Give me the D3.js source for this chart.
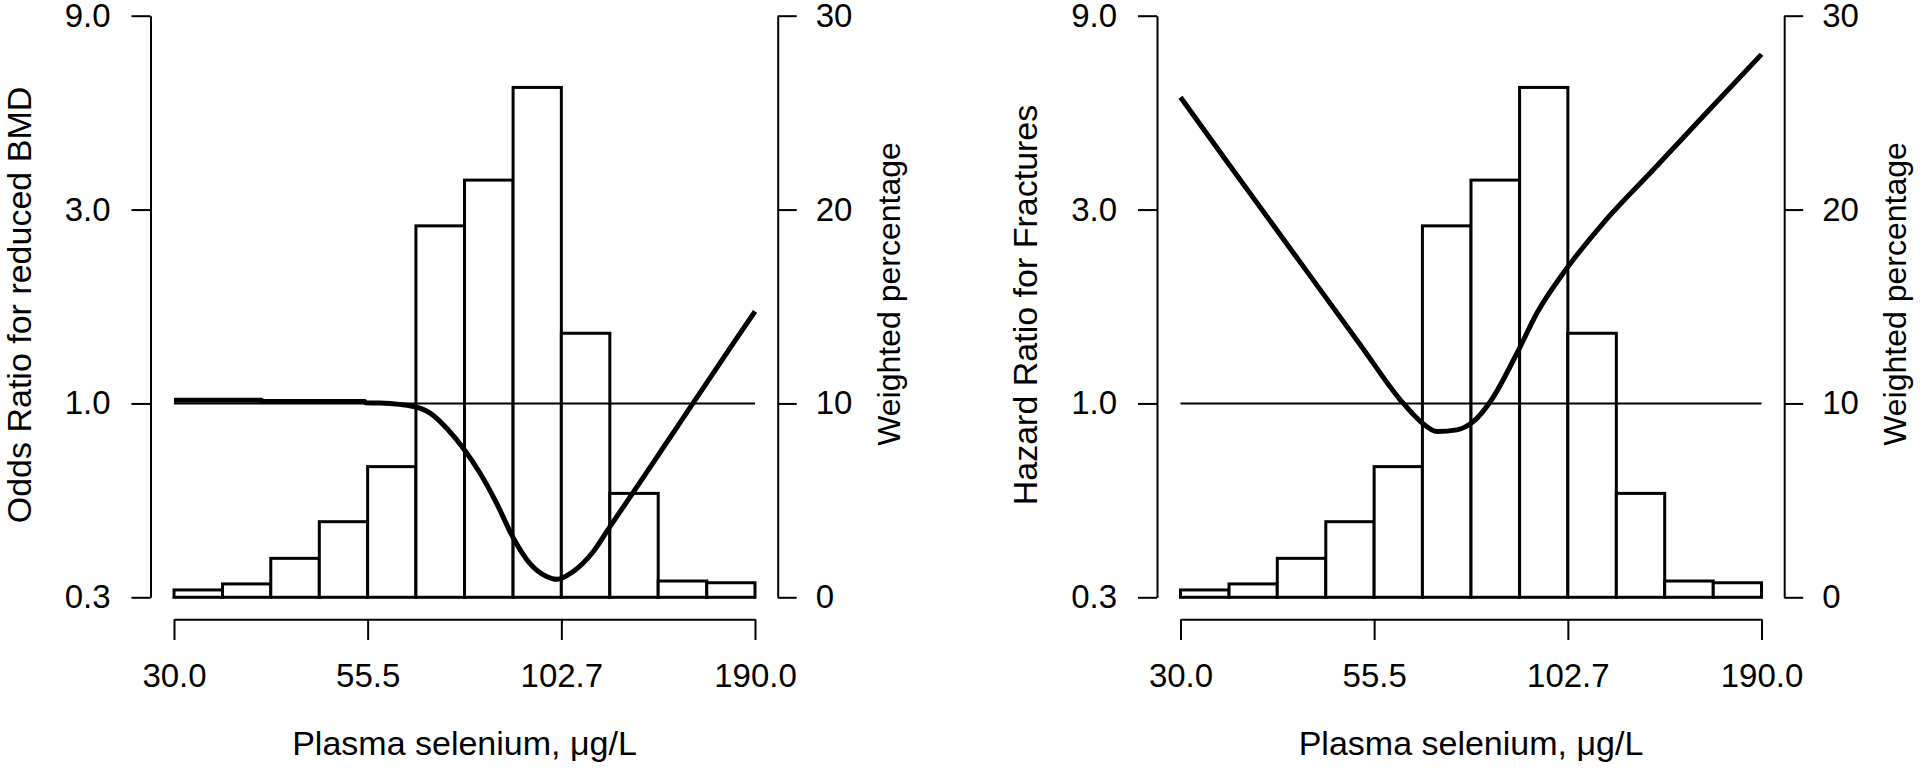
<!DOCTYPE html>
<html>
<head>
<meta charset="utf-8">
<script src="https://cdn.jsdelivr.net/npm/d3@7"></script>
<style>
  html, body { margin: 0; padding: 0; background: #fff; }
  svg { display: block; font-family: "Liberation Sans", Arial, sans-serif; }
  .axis path, .axis line { stroke: #000; stroke-width: 2; }
  .axis text { font-size: 33px; fill: #000; font-family: "Liberation Sans", Arial, sans-serif; }
  .title { font-size: 34px; fill: #000; }
</style>
</head>
<body>
<svg id="chart" width="1920" height="768"></svg>
<script>
// histogram of plasma selenium (log-spaced bins), same in both panels
const binEdges = [30, 35.0, 40.8, 47.6, 55.5, 64.7, 75.5, 88.1, 102.7, 119.8, 139.7, 163.0, 190.0];
const weightedPct = [0.38, 0.69, 2.01, 3.90, 6.74, 19.16, 21.52, 26.30, 13.62, 5.36, 0.84, 0.75];

// tick values
const xTicks = [30.0, 55.5, 102.7, 190.0];
const ratioTicks = [1/3, 1, 3, 9];
const ratioTickLabels = ['0.3', '1.0', '3.0', '9.0'];
const pctTicks = [0, 10, 20, 30];

// left panel: odds ratio for reduced BMD
const bmdSelenium = [30, 39.6, 39.7, 55.0, 55.1, 57.7, 64.2, 67.7, 71.3, 75.2, 79.3, 83.6, 88.2,
                     92.9, 98.0, 101.2, 106.7, 113.7, 119.9, 129.1, 142.0, 155.4, 166.4, 177.3, 190];
const bmdOddsRatio = [1.018, 1.018, 1.011, 1.011, 1.004, 1.002, 0.983, 0.947, 0.870, 0.776, 0.674, 0.568, 0.466,
                      0.404, 0.375, 0.369, 0.386, 0.432, 0.498, 0.605, 0.779, 0.990, 1.187, 1.405, 1.685];

// right panel: hazard ratio for fractures
const fxSelenium = [30, 34.8, 43.0, 53.1, 60.3, 64.3, 67.8, 72.2, 76.1, 80.3, 87.4, 93.1,
                    101.3, 115.0, 134.8, 158.0, 190];
const fxHazardRatio = [5.67, 3.93, 2.34, 1.395, 1.021, 0.903, 0.853, 0.861, 0.903, 1.011, 1.331, 1.670,
                       2.097, 2.782, 3.763, 5.10, 7.23];

const svg = d3.select('#chart');

drawPanel(svg, 150.5, bmdSelenium, bmdOddsRatio, 'Odds Ratio for reduced BMD');
drawPanel(svg, 1157, fxSelenium, fxHazardRatio, 'Hazard Ratio for Fractures');

function drawPanel(svg, left, sel, ratio, ratioTitle) {
    let g = svg.append('g').attr('transform', 'translate(' + left + ',0)');

    let x = d3.scaleLog().domain([30, 190]).range([23.5, 604.5]);
    let yRatio = d3.scaleLog().base(3).domain([1/3, 9]).range([597.3, 15.7]);
    let yPct = d3.scaleLinear().domain([0, 30]).range([597.3, 15.7]);
    let rightX = 627.2;

    // histogram bars
    let bins = weightedPct.map(function(p, i) { return {x0: binEdges[i], x1: binEdges[i+1], p: p}; });
    g.selectAll('.bar').data(bins).enter()
        .append('rect')
            .attr('class', 'bar')
            .attr('x', function(d) { return x(d.x0); })
            .attr('width', function(d) { return x(d.x1) - x(d.x0); })
            .attr('y', function(d) { return yPct(d.p); })
            .attr('height', function(d) { return yPct(0) - yPct(d.p); })
            .attr('fill', '#fff')
            .attr('stroke', '#000')
            .attr('stroke-width', 3);

    // reference line at ratio 1
    g.append('line')
        .attr('x1', x(30)).attr('x2', x(190))
        .attr('y1', yRatio(1)).attr('y2', yRatio(1))
        .attr('stroke', '#000')
        .attr('stroke-width', 2);

    // spline curve
    let pts = sel.map(function(v, i) { return [v, ratio[i]]; });
    let line = d3.line()
        .x(function(d) { return x(d[0]); })
        .y(function(d) { return yRatio(d[1]); })
        .curve(d3.curveMonotoneX);
    g.append('path')
        .attr('d', line(pts))
        .attr('fill', 'none')
        .attr('stroke', '#000')
        .attr('stroke-width', 5)
        .attr('stroke-linejoin', 'round');

    // axes
    g.append('g').attr('class', 'axis')
        .call(d3.axisLeft(yRatio)
            .tickValues(ratioTicks)
            .tickFormat(function(d, i) { return ratioTickLabels[i]; })
            .tickSize(19).tickSizeOuter(0).tickPadding(21));

    g.append('g').attr('class', 'axis')
        .attr('transform', 'translate(0,619.3)')
        .call(d3.axisBottom(x)
            .tickValues(xTicks)
            .tickFormat(d3.format('.1f'))
            .tickSize(20.7).tickSizeOuter(0).tickPadding(24));

    g.append('g').attr('class', 'axis')
        .attr('transform', 'translate(' + rightX + ',0)')
        .call(d3.axisRight(yPct)
            .tickValues(pctTicks)
            .tickSize(19).tickSizeOuter(0).tickPadding(19));

    g.selectAll('.axis text').attr('font-size', null);

    // titles
    g.append('text')
        .attr('class', 'title')
        .attr('text-anchor', 'middle')
        .attr('x', (x(30) + x(190)) / 2)
        .attr('y', 755)
        .text('Plasma selenium, \u03bcg/L');

    g.append('text')
        .attr('class', 'title')
        .attr('text-anchor', 'middle')
        .attr('transform', 'translate(-120,305) rotate(-90)')
        .text(ratioTitle);

    g.append('text')
        .attr('class', 'title')
        .attr('text-anchor', 'middle')
        .style('font-size', '32px')
        .attr('transform', 'translate(' + (rightX + 122) + ',294) rotate(-90)')
        .text('Weighted percentage');
}
</script>
</body>
</html>
